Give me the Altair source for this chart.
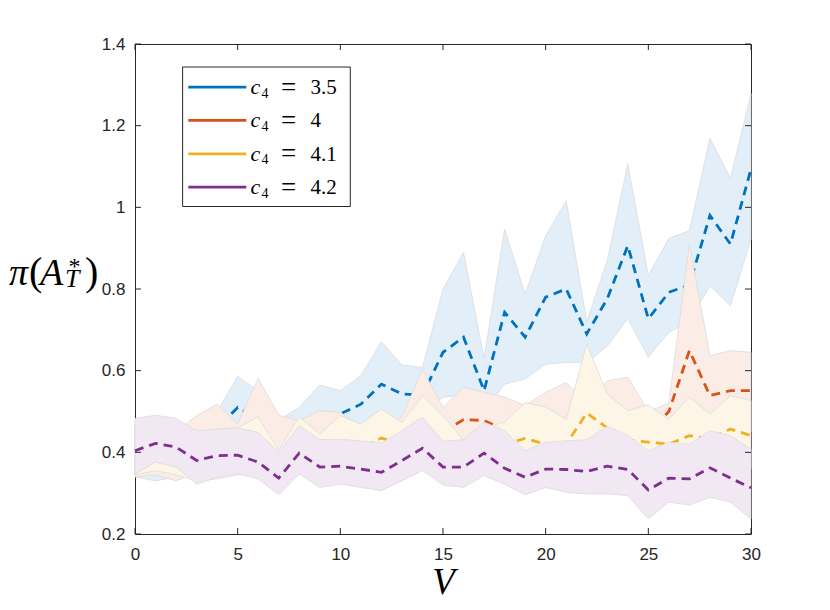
import altair as alt
import pandas as pd

xs = list(range(31))

blue_mean = [0.43, 0.44, 0.43, 0.44, 0.46, 0.51, 0.48, 0.46, 0.47, 0.48, 0.494, 0.518, 0.567, 0.543, 0.54,
             0.645, 0.682, 0.551, 0.743, 0.682, 0.78, 0.80, 0.69, 0.776, 0.906, 0.727, 0.792, 0.81, 0.98, 0.91, 1.094]
blue_hi = [0.47, 0.47, 0.46, 0.47, 0.50, 0.586, 0.55, 0.48, 0.51, 0.565, 0.551, 0.588, 0.671, 0.614, 0.608,
           0.80, 0.89, 0.63, 0.947, 0.788, 0.93, 1.016, 0.72, 0.87, 1.106, 0.833, 0.924, 0.943, 1.169, 1.071, 1.278]
blue_lo = [0.34, 0.33, 0.34, 0.35, 0.37, 0.40, 0.40, 0.40, 0.41, 0.42, 0.43, 0.44, 0.46, 0.47, 0.50,
           0.535, 0.54, 0.50, 0.567, 0.58, 0.616, 0.62, 0.62, 0.66, 0.727, 0.633, 0.694, 0.72, 0.808, 0.759, 0.922]

red_mean = [0.43, 0.43, 0.42, 0.42, 0.45, 0.44, 0.46, 0.39, 0.44, 0.43, 0.45, 0.44, 0.45, 0.44, 0.47,
            0.45, 0.48, 0.478, 0.455, 0.45, 0.46, 0.487, 0.47, 0.47, 0.46, 0.45, 0.50, 0.649, 0.539, 0.551, 0.551]
red_hi = [0.46, 0.46, 0.45, 0.49, 0.518, 0.469, 0.581, 0.491, 0.477, 0.502, 0.498, 0.46, 0.47, 0.486, 0.604,
          0.51, 0.559, 0.547, 0.535, 0.515, 0.547, 0.571, 0.52, 0.575, 0.584, 0.50, 0.52, 0.91, 0.637, 0.649, 0.645]
red_lo = [0.34, 0.345, 0.33, 0.35, 0.36, 0.37, 0.37, 0.34, 0.37, 0.37, 0.38, 0.37, 0.38, 0.38, 0.39,
          0.39, 0.40, 0.40, 0.39, 0.38, 0.39, 0.40, 0.39, 0.39, 0.38, 0.38, 0.40, 0.42, 0.44, 0.45, 0.45]

yel_mean = [0.42, 0.43, 0.42, 0.40, 0.41, 0.41, 0.42, 0.37, 0.43, 0.41, 0.41, 0.41, 0.435, 0.42, 0.44,
            0.41, 0.41, 0.44, 0.42, 0.434, 0.42, 0.42, 0.496, 0.46, 0.43, 0.425, 0.42, 0.441, 0.433, 0.457, 0.441]
yel_hi = [0.46, 0.47, 0.46, 0.44, 0.45, 0.46, 0.487, 0.405, 0.487, 0.445, 0.49, 0.469, 0.506, 0.473, 0.539,
          0.49, 0.43, 0.46, 0.474, 0.522, 0.511, 0.481, 0.665, 0.543, 0.502, 0.516, 0.481, 0.535, 0.494, 0.539, 0.527]
yel_lo = [0.345, 0.355, 0.345, 0.33, 0.335, 0.345, 0.35, 0.31, 0.36, 0.34, 0.34, 0.34, 0.34, 0.35, 0.37,
          0.34, 0.34, 0.37, 0.35, 0.34, 0.35, 0.35, 0.37, 0.37, 0.36, 0.35, 0.35, 0.36, 0.37, 0.38, 0.36]

pur_mean = [0.404, 0.422, 0.413, 0.38, 0.392, 0.393, 0.376, 0.337, 0.398, 0.364, 0.366, 0.359, 0.351, 0.38, 0.41,
            0.364, 0.364, 0.398, 0.361, 0.339, 0.359, 0.358, 0.353, 0.366, 0.358, 0.308, 0.337, 0.335, 0.362, 0.337, 0.313]
pur_hi = [0.483, 0.491, 0.483, 0.453, 0.457, 0.46, 0.449, 0.40, 0.465, 0.431, 0.432, 0.428, 0.423, 0.453, 0.486,
          0.427, 0.431, 0.474, 0.453, 0.404, 0.425, 0.428, 0.431, 0.464, 0.441, 0.404, 0.425, 0.42, 0.453, 0.441, 0.408]
pur_lo = [0.347, 0.376, 0.364, 0.322, 0.339, 0.347, 0.335, 0.296, 0.347, 0.314, 0.322, 0.314, 0.306, 0.33, 0.355,
          0.32, 0.314, 0.343, 0.322, 0.296, 0.314, 0.302, 0.298, 0.298, 0.294, 0.237, 0.278, 0.271, 0.29, 0.278, 0.237]

series_names = ["3.5", "4", "4.1", "4.2"]
line_colors = ["#0072BD", "#D95319", "#EDB120", "#7E2F8E"]
band_colors = ["#E3EFF8", "#FBECE6", "#FDF6E7", "#F1E8F3"]

x_ticks = [0, 5, 10, 15, 20, 25, 30]
y_ticks = [0.2, 0.4, 0.6, 0.8, 1.0, 1.2, 1.4]

W, H = 616, 490
AX = "#262626"

series = [
    (series_names[0], blue_mean, blue_lo, blue_hi),
    (series_names[1], red_mean, red_lo, red_hi),
    (series_names[2], yel_mean, yel_lo, yel_hi),
    (series_names[3], pur_mean, pur_lo, pur_hi),
]

rows = []
for name, m, lo, hi in series:
    for i, x in enumerate(xs):
        rows.append({"s": name, "x": x, "m": m[i], "lo": lo[i], "hi": hi[i]})
df = pd.DataFrame(rows)

xscale = alt.Scale(domain=[0, 30], nice=False, zero=False)
yscale = alt.Scale(domain=[0.2, 1.4], nice=False, zero=False)
xaxis = alt.Axis(values=x_ticks, grid=False, domain=False, ticks=False, tickSize=0,
                 labelPadding=12, labelFont="Liberation Sans", labelFontSize=17,
                 labelColor=AX, format="~g", labelFlush=False)
yaxis = alt.Axis(values=y_ticks, grid=False, domain=False, ticks=False, tickSize=0,
                 labelPadding=10, labelFont="Liberation Sans", labelFontSize=17,
                 labelColor=AX, format="~g", labelFlush=False)

layers = []
for k, (name, m, lo, hi) in enumerate(series):
    base = alt.Chart(df).transform_filter(alt.datum.s == name)
    band = base.mark_area(fill=band_colors[k], fillOpacity=1, stroke="#dcdcdc",
                          strokeWidth=0.8, interpolate="linear").encode(
        x=alt.X("x:Q", scale=xscale, axis=xaxis, title=None),
        y=alt.Y("lo:Q", scale=yscale, axis=yaxis, title=None),
        y2="hi:Q",
    )
    line = base.mark_line(color=line_colors[k], strokeDash=[9, 6], strokeWidth=2.8).encode(
        x=alt.X("x:Q", scale=xscale, axis=xaxis, title=None),
        y=alt.Y("m:Q", scale=yscale, axis=yaxis, title=None),
    )
    layers += [band, line]

# inward ticks on all four sides
xt = pd.DataFrame({"v": x_ticks})
yt = pd.DataFrame({"v": y_ticks})
tick_bottom = alt.Chart(xt).mark_rule(color=AX, strokeWidth=1).encode(
    x=alt.X("v:Q", scale=xscale, axis=xaxis, title=None), y=alt.value(H), y2=alt.value(H - 6))
tick_top = alt.Chart(xt).mark_rule(color=AX, strokeWidth=1).encode(
    x=alt.X("v:Q", scale=xscale, axis=xaxis, title=None), y=alt.value(0), y2=alt.value(6))
tick_left = alt.Chart(yt).mark_rule(color=AX, strokeWidth=1).encode(
    y=alt.Y("v:Q", scale=yscale, axis=yaxis, title=None), x=alt.value(0), x2=alt.value(6))
tick_right = alt.Chart(yt).mark_rule(color=AX, strokeWidth=1).encode(
    y=alt.Y("v:Q", scale=yscale, axis=yaxis, title=None), x=alt.value(W), x2=alt.value(W - 6))
layers += [tick_bottom, tick_top, tick_left, tick_right]

one = pd.DataFrame({"t": ["x"]})


def txt(s, x, y, size, italic=False, font="Liberation Serif", align="left", color="#000000"):
    kw = dict(font=font, fontSize=size, align=align, baseline="alphabetic", color=color)
    if italic:
        kw["fontStyle"] = "italic"
    return alt.Chart(pd.DataFrame({"t": [s]})).mark_text(**kw).encode(
        text="t:N", x=alt.value(x), y=alt.value(y))


# legend
legend_box = alt.Chart(one).mark_rect(fill="white", stroke=AX, strokeWidth=1).encode(
    x=alt.value(47.6), x2=alt.value(215.3), y=alt.value(23), y2=alt.value(162.5))
layers.append(legend_box)
for k, name in enumerate(series_names):
    ry = 43.1 + 33.35 * k
    layers.append(alt.Chart(one).mark_rule(color=line_colors[k], strokeWidth=2.8).encode(
        x=alt.value(53.3), x2=alt.value(111.3), y=alt.value(ry)))
    layers.append(txt("c", 115.5, ry + 7, 22, italic=True))
    layers.append(txt("4", 126.5, ry + 10.5, 14))
    layers.append(txt("=", 146, ry + 8.5, 27))
    layers.append(txt(name, 175.5, ry + 7, 21))

# axis titles
layers.append(txt("V", 308.5, 550, 37, italic=True, align="center"))
layers.append(txt("π", -126, 240.8, 38, italic=True))
layers.append(txt("(", -106, 240.8, 40))
layers.append(txt("A", -95, 240.8, 38, italic=True))
layers.append(txt("*", -66.5, 229.5, 24))
layers.append(txt("T", -70, 242.8, 26, italic=True))
layers.append(txt(")", -50, 240.8, 40))

chart = alt.layer(*layers).properties(
    width=W, height=H,
    autosize=alt.AutoSizeParams(type="none"),
    padding={"left": 127, "top": 36, "right": 50, "bottom": 68},
).configure_view(stroke=AX, strokeWidth=1)

chart.save("out.html", embed_options={"renderer": "svg", "actions": False})
